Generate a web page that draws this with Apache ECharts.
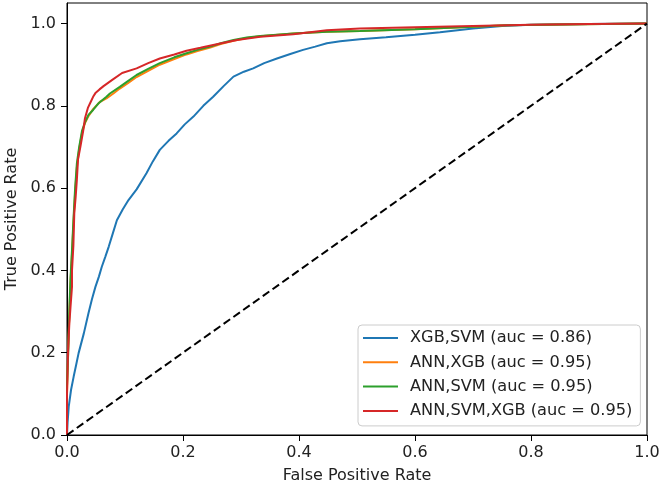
<!DOCTYPE html>
<html>
<head>
<meta charset="utf-8">
<style>html,body{margin:0;padding:0;background:#fff}#c{width:667px;height:489px}</style>
<script src="https://cdn.jsdelivr.net/npm/echarts@6/dist/echarts.min.js"></script>
</head>
<body>
<div id="c"></div>
<script>
const seriesNames = ['XGB,SVM (auc = 0.86)', 'ANN,XGB (auc = 0.95)', 'ANN,SVM (auc = 0.95)', 'ANN,SVM,XGB (auc = 0.95)'];
const seriesColors = ['#1f77b4', '#ff7f0e', '#2ca02c', '#d62728'];
const tickValues = [0, 0.2, 0.4, 0.6, 0.8, 1.0];

const xgbSvmFpr = [0,0.001,0.003,0.007,0.0115,0.016,0.020,0.029,0.037,0.043,0.049,0.055,0.060,0.066,0.072,0.079,0.086,0.096,0.106,0.12,0.137,0.148,0.16,0.175,0.189,0.203,0.218,0.235,0.252,0.27,0.287,0.305,0.321,0.34,0.362,0.385,0.407,0.428,0.448,0.471,0.505,0.55,0.6,0.643,0.7,0.75,0.8,0.9,1];
const xgbSvmTpr = [0,0.03,0.069,0.11,0.142,0.172,0.199,0.247,0.296,0.33,0.36,0.385,0.409,0.433,0.458,0.49,0.522,0.548,0.571,0.597,0.636,0.665,0.693,0.715,0.733,0.755,0.774,0.8,0.822,0.848,0.871,0.883,0.891,0.904,0.915,0.926,0.936,0.944,0.952,0.957,0.962,0.967,0.973,0.979,0.988,0.994,0.997,0.999,1];

const annXgbFpr = [0,0,0.002,0.004,0.006,0.009,0.011,0.014,0.017,0.021,0.026,0.031,0.037,0.045,0.057,0.068,0.08,0.091,0.105,0.12,0.14,0.16,0.185,0.206,0.225,0.247,0.265,0.287,0.31,0.333,0.39,0.448,0.505,0.6,0.7,0.758,0.85,1];
const annXgbTpr = [0,0.1,0.2,0.29,0.37,0.45,0.51,0.59,0.65,0.695,0.735,0.758,0.775,0.792,0.81,0.818,0.83,0.842,0.855,0.87,0.885,0.9,0.914,0.925,0.933,0.942,0.95,0.958,0.965,0.969,0.976,0.98,0.982,0.986,0.992,0.996,0.998,1];

const annSvmFpr = [0,0,0.002,0.004,0.006,0.009,0.011,0.014,0.017,0.021,0.026,0.031,0.037,0.045,0.055,0.068,0.074,0.091,0.105,0.12,0.14,0.16,0.185,0.206,0.225,0.247,0.265,0.287,0.31,0.333,0.39,0.448,0.505,0.6,0.7,0.758,0.85,1];
const annSvmTpr = [0,0.12,0.2,0.3,0.38,0.46,0.52,0.6,0.66,0.7,0.74,0.76,0.778,0.79,0.807,0.822,0.83,0.846,0.86,0.875,0.89,0.904,0.918,0.928,0.936,0.944,0.952,0.96,0.966,0.97,0.976,0.98,0.982,0.986,0.992,0.996,0.998,1];

const annSvmXgbFpr = [0,0,0.0017,0.004,0.006,0.0086,0.0086,0.011,0.0126,0.015,0.017,0.019,0.023,0.028,0.031,0.036,0.04,0.045,0.049,0.056,0.063,0.078,0.095,0.12,0.14,0.16,0.185,0.206,0.23,0.252,0.293,0.333,0.39,0.448,0.505,0.6,0.7,0.8,0.9,1];
const annSvmXgbTpr = [0,0.1,0.2,0.27,0.31,0.36,0.4,0.46,0.54,0.58,0.62,0.67,0.7,0.74,0.77,0.795,0.807,0.822,0.831,0.84,0.848,0.863,0.88,0.891,0.904,0.915,0.925,0.934,0.941,0.948,0.96,0.968,0.974,0.984,0.988,0.991,0.994,0.997,0.999,1];

const chanceFpr = [0, 1];
const chanceTpr = [0, 1];

const fprs = [xgbSvmFpr, annXgbFpr, annSvmFpr, annSvmXgbFpr];
const tprs = [xgbSvmTpr, annXgbTpr, annSvmTpr, annSvmXgbTpr];
const zip = (a, b) => a.map((v, i) => [v, b[i]]);

const chart = echarts.init(document.getElementById('c'), null, {renderer: 'canvas'});
const font = 'DejaVu Sans';
const series = seriesNames.map((n, i) => ({
  name: n, type: 'line', data: zip(fprs[i], tprs[i]), showSymbol: false, symbol: 'none',
  lineStyle: {color: seriesColors[i], width: 2}, itemStyle: {color: seriesColors[i]},
  animation: false, z: 2 + i
}));
series.push({
  name: 'chance', type: 'line', data: zip(chanceFpr, chanceTpr), showSymbol: false, symbol: 'none',
  lineStyle: {color: '#000', width: 2, type: [8, 4]}, animation: false, z: 10
});

chart.setOption({
  animation: false,
  backgroundColor: '#fff',
  textStyle: {fontFamily: font},
  grid: {left: 67, right: 20, top: 3, bottom: 54, containLabel: false, outerBoundsMode: 'none',
         show: true, borderColor: '#000', borderWidth: 1, backgroundColor: 'transparent'},
  xAxis: {
    type: 'value', min: 0, max: 1, interval: 0.2,
    name: 'False Positive Rate', nameLocation: 'middle', nameGap: 33,
    nameTextStyle: {fontFamily: font, fontSize: 16, color: '#222'},
    axisLine: {show: true, lineStyle: {color: '#000', width: 1}},
    axisTick: {show: true, length: 6, lineStyle: {color: '#000'}},
    axisLabel: {fontFamily: font, fontSize: 16, color: '#222', margin: 10, formatter: v => v.toFixed(1)},
    splitLine: {show: false}
  },
  yAxis: {
    type: 'value', min: 0, max: 1.05,
    name: 'True Positive Rate', nameLocation: 'middle', nameGap: 46,
    nameTextStyle: {fontFamily: font, fontSize: 16, color: '#222'},
    axisLine: {show: true, lineStyle: {color: '#000', width: 1}},
    axisTick: {show: true, length: 6, lineStyle: {color: '#000'}, customValues: tickValues},
    axisLabel: {fontFamily: font, fontSize: 16, color: '#222', margin: 11, customValues: tickValues, formatter: v => v.toFixed(1)},
    splitLine: {show: false}
  },
  legend: {
    data: seriesNames, orient: 'vertical', left: 358, top: 325,
    padding: [4, 8, 6, 5], itemGap: 6.3, itemWidth: 35, itemHeight: 2, icon: 'rect',
    backgroundColor: 'rgba(255,255,255,0.8)', borderColor: '#ccc', borderWidth: 1, borderRadius: 4,
    textStyle: {fontFamily: font, fontSize: 16.2, color: '#222', lineHeight: 18, padding: [0, 0, 0, 7]},
    selectedMode: false
  },
  series: series
});
</script>
</body>
</html>
